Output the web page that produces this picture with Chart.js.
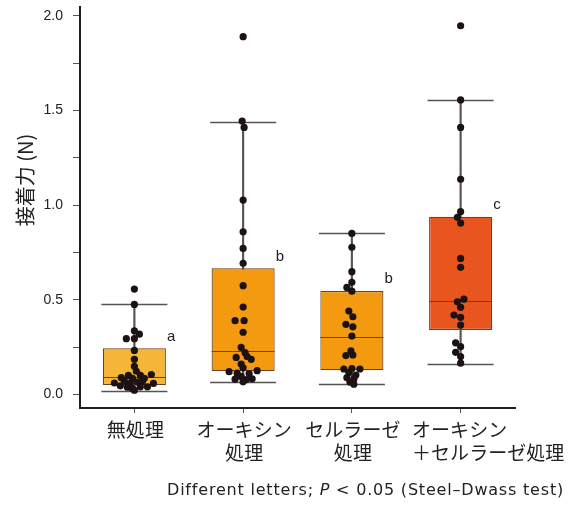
<!DOCTYPE html>
<html>
<head>
<meta charset="utf-8">
<script src="https://cdn.jsdelivr.net/npm/chart.js@4.4.1/dist/chart.umd.min.js"></script>
<style>
html,body{margin:0;padding:0;background:#fff;}
#wrap{width:577px;height:507px;position:relative;}
</style>
</head>
<body>
<div id="wrap"><canvas id="c" width="577" height="507"></canvas></div>
<script>
// ---- data ----
const categories = [
  ['無処理'],
  ['オーキシン', '処理'],
  ['セルラーゼ', '処理'],
  ['オーキシン', '＋セルラーゼ処理']
];
const q1          = [0.049, 0.123, 0.128, 0.340];
const median      = [0.091, 0.230, 0.304, 0.495];
const q3          = [0.243, 0.666, 0.546, 0.938];
const whiskerLow  = [0.019, 0.065, 0.054, 0.160];
const whiskerHigh = [0.475, 1.438, 0.850, 1.555];
const letters     = ['a', 'b', 'b', 'c'];

// individual observations (values) and their swarm offsets (in category widths)
const values1 = [0.556,0.475,0.336,0.318,0.294,0.294,0.232,0.185,0.148,0.122,0.100,0.100,0.105,0.088,0.085,0.085,0.060,0.045,0.038,0.022,0.040,0.040,0.058,0.060,0.065,0.070,0.068,0.030];
const jitter1 = [0,0,0,0.046,-0.074,0,0,0,0,0.018,-0.055,0.055,0.156,-0.120,-0.018,0.092,-0.184,-0.129,-0.064,0,0.055,0.120,0.175,-0.037,0.028,-0.092,0.074,-0.018];
const values2 = [1.889,1.444,1.410,1.026,0.859,0.771,0.692,0.574,0.461,0.389,0.389,0.328,0.248,0.220,0.195,0.200,0.160,0.185,0.140,0.120,0.125,0.112,0.110,0.095,0.080,0.078,0.082,0.066];
const jitter2 = [0,-0.009,0.009,0,0,0,0,0,0,-0.074,0.009,0,-0.018,0.018,-0.064,0.037,-0.018,0.074,0,-0.129,0.129,-0.055,0.055,-0.018,-0.074,0.028,0.083,0];
const values3 = [0.850,0.777,0.648,0.592,0.565,0.545,0.440,0.410,0.370,0.357,0.308,0.230,0.205,0.208,0.134,0.136,0.134,0.115,0.102,0.088,0.080,0.065,0.054];
const jitter3 = [0,0,0,0,-0.046,0,-0.028,0.009,-0.055,0.009,0,-0.009,-0.055,0.009,-0.074,0,0.074,-0.028,0.037,-0.046,0.018,-0.018,0.018];
const values4 = [1.947,1.555,1.410,1.136,0.965,0.935,0.905,0.718,0.671,0.503,0.489,0.460,0.419,0.407,0.366,0.272,0.252,0.222,0.200,0.165];
const jitter4 = [0,0,0,0,0,-0.030,0,0,0,0.030,-0.030,0,-0.061,0,0,-0.046,0,-0.046,0,0];

const yTicks      = [0, 0.25, 0.5, 0.75, 1.0, 1.25, 1.5, 1.75, 2.0];
const yTickLabels = ['0.0', '', '0.5', '', '1.0', '', '1.5', '', '2.0'];
const yTitle   = '接着力 (N)';
const footnote = ['Different letters; ', 'P', ' < 0.05 (Steel–Dwass test)'];

// ---- styles ----
const boxColors   = ['#F5B536', '#F39A10', '#F39A10', '#E9551F'];
const boxBorder   = '#6e4220';
const whiskerColor= '#555555';
const pointColor  = '#1c1213';
const axisColor   = '#1e1e1e';
const textColor   = '#222222';
const JP = '"Noto Sans CJK JP", "Noto Sans", sans-serif';
const LAT = '"Liberation Sans", Arial, sans-serif';

const groups = [[values1, jitter1], [values2, jitter2], [values3, jitter3], [values4, jitter4]];
const pointData = [];
groups.forEach(([vals, jit], i) => vals.forEach((v, k) => pointData.push({ x: i + jit[k], y: v })));

const annot = {
  id: 'annot',
  afterDatasetDraw(chart, args) {
    const ctx = chart.ctx, ys = chart.scales.y;
    const boxes = chart.getDatasetMeta(0).data;
    if (args.index === 1) {
      ctx.save();
      ctx.strokeStyle = whiskerColor; ctx.lineWidth = 1.5;
      boxes.forEach((b, i) => {
        const half = b.width / 2 + 1.5;
        [whiskerLow[i], whiskerHigh[i]].forEach(v => {
          const py = Math.round(ys.getPixelForValue(v)) + 0.5;
          ctx.beginPath(); ctx.moveTo(b.x - half, py); ctx.lineTo(b.x + half, py); ctx.stroke();
        });
      });
      ctx.restore();
    }
    if (args.index === 0) {
      ctx.save();
      ctx.strokeStyle = boxBorder; ctx.lineWidth = 1.2;
      boxes.forEach((b, i) => {
        const half = b.width / 2;
        const py = Math.round(ys.getPixelForValue(median[i])) + 0.5;
        ctx.beginPath(); ctx.moveTo(b.x - half, py); ctx.lineTo(b.x + half, py); ctx.stroke();
      });
      ctx.fillStyle = textColor;
      ctx.font = '15px ' + LAT;
      ctx.textAlign = 'left'; ctx.textBaseline = 'alphabetic';
      boxes.forEach((b, i) => {
        ctx.fillText(letters[i], b.x + b.width / 2 + 1, ys.getPixelForValue(q3[i]) - 7.5);
      });
      ctx.restore();
    }
  },
  afterDraw(chart) {
    const ctx = chart.ctx, xs = chart.scales.x, area = chart.chartArea;
    ctx.save();
    ctx.fillStyle = textColor;
    // category labels
    ctx.font = '19px ' + JP;
    ctx.textBaseline = 'middle';
    categories.forEach((lines, i) => {
      const cx = xs.getPixelForValue(i);
      const w0 = ctx.measureText(lines[0]).width;
      const longer = lines.some(l => ctx.measureText(l).width > w0 + 1);
      lines.forEach((l, k) => {
        const py = area.bottom + 22 + k * 23;
        if (longer) { ctx.textAlign = 'left'; ctx.fillText(l, cx - w0 / 2 - 1, py); }
        else { ctx.textAlign = 'center'; ctx.fillText(l, cx + 1, py); }
      });
    });
    // y axis title
    ctx.save();
    ctx.translate(25, area.top + 173);
    ctx.rotate(-Math.PI / 2);
    ctx.textAlign = 'center'; ctx.textBaseline = 'middle';
    ctx.font = '20px ' + JP;
    ctx.fillText(yTitle, 0, 0);
    ctx.restore();
    // footnote
    const fN = '16px "DejaVu Sans", Verdana, sans-serif';
    const fI = 'italic 16px "DejaVu Sans", Verdana, sans-serif';
    ctx.letterSpacing = '0.8px';
    ctx.textAlign = 'left'; ctx.textBaseline = 'alphabetic';
    const fonts = [fN, fI, fN];
    let widths = footnote.map((s, k) => { ctx.font = fonts[k]; return ctx.measureText(s).width; });
    let x = 564 - widths.reduce((a, b) => a + b, 0);
    footnote.forEach((s, k) => { ctx.font = fonts[k]; ctx.fillText(s, x, 495); x += widths[k]; });
    ctx.restore();
  }
};

function build() {
  new Chart(document.getElementById('c'), {
    data: {
      labels: categories.map(c => c.join('')),
      datasets: [
        {
          type: 'bar', data: q1.map((v, i) => [v, q3[i]]),
          backgroundColor: boxColors, borderColor: boxBorder, borderWidth: 1.2,
          borderSkipped: false, grouped: false, barPercentage: 0.58, categoryPercentage: 1, order: 1
        },
        {
          type: 'bar', data: whiskerLow.map((v, i) => [v, whiskerHigh[i]]),
          backgroundColor: whiskerColor, borderWidth: 0, barThickness: 1.5,
          grouped: false, order: 2
        },
        {
          type: 'scatter', data: pointData, xAxisID: 'xj',
          backgroundColor: pointColor, borderWidth: 0, pointRadius: 3.6, order: 0
        }
      ]
    },
    options: {
      responsive: false, animation: false,
      layout: { padding: { left: 0, top: 7, right: 62, bottom: 0 } },
      plugins: { legend: { display: false }, tooltip: { enabled: false } },
      scales: {
        x: {
          type: 'category', offset: true,
          grid: { drawOnChartArea: false, offset: false, tickLength: 5, color: '#555', lineWidth: 1 },
          border: { display: true, color: axisColor, width: 2 },
          ticks: { display: false },
          afterFit: s => { s.height = 99; s.paddingLeft = 0; s.paddingRight = 0; }
        },
        xj: { type: 'linear', display: false, min: -0.5, max: 3.5 },
        y: {
          type: 'linear', min: -0.072, max: 2.046,
          grid: { drawOnChartArea: false, tickLength: 7, color: '#555', lineWidth: 1 },
          border: { display: true, color: axisColor, width: 2 },
          ticks: {
            padding: 10, color: textColor, font: { family: LAT, size: 14 },
            callback: (v, i) => yTickLabels[i]
          },
          afterBuildTicks: s => { s.ticks = yTicks.map(v => ({ value: v })); },
          afterFit: s => { s.width = 80; s.paddingTop = 0; s.paddingBottom = 0; }
        }
      }
    },
    plugins: [annot]
  });
}
const fl = [
  '18px "Noto Sans CJK JP"', '14px "Liberation Sans"', '14px "DejaVu Sans"', 'italic 14px "DejaVu Sans"'
].map(f => document.fonts.load(f, '接着力無処理オーキシンセルラーゼ＋P0.5'));
Promise.all(fl).then(build, build);
</script>
</body>
</html>
